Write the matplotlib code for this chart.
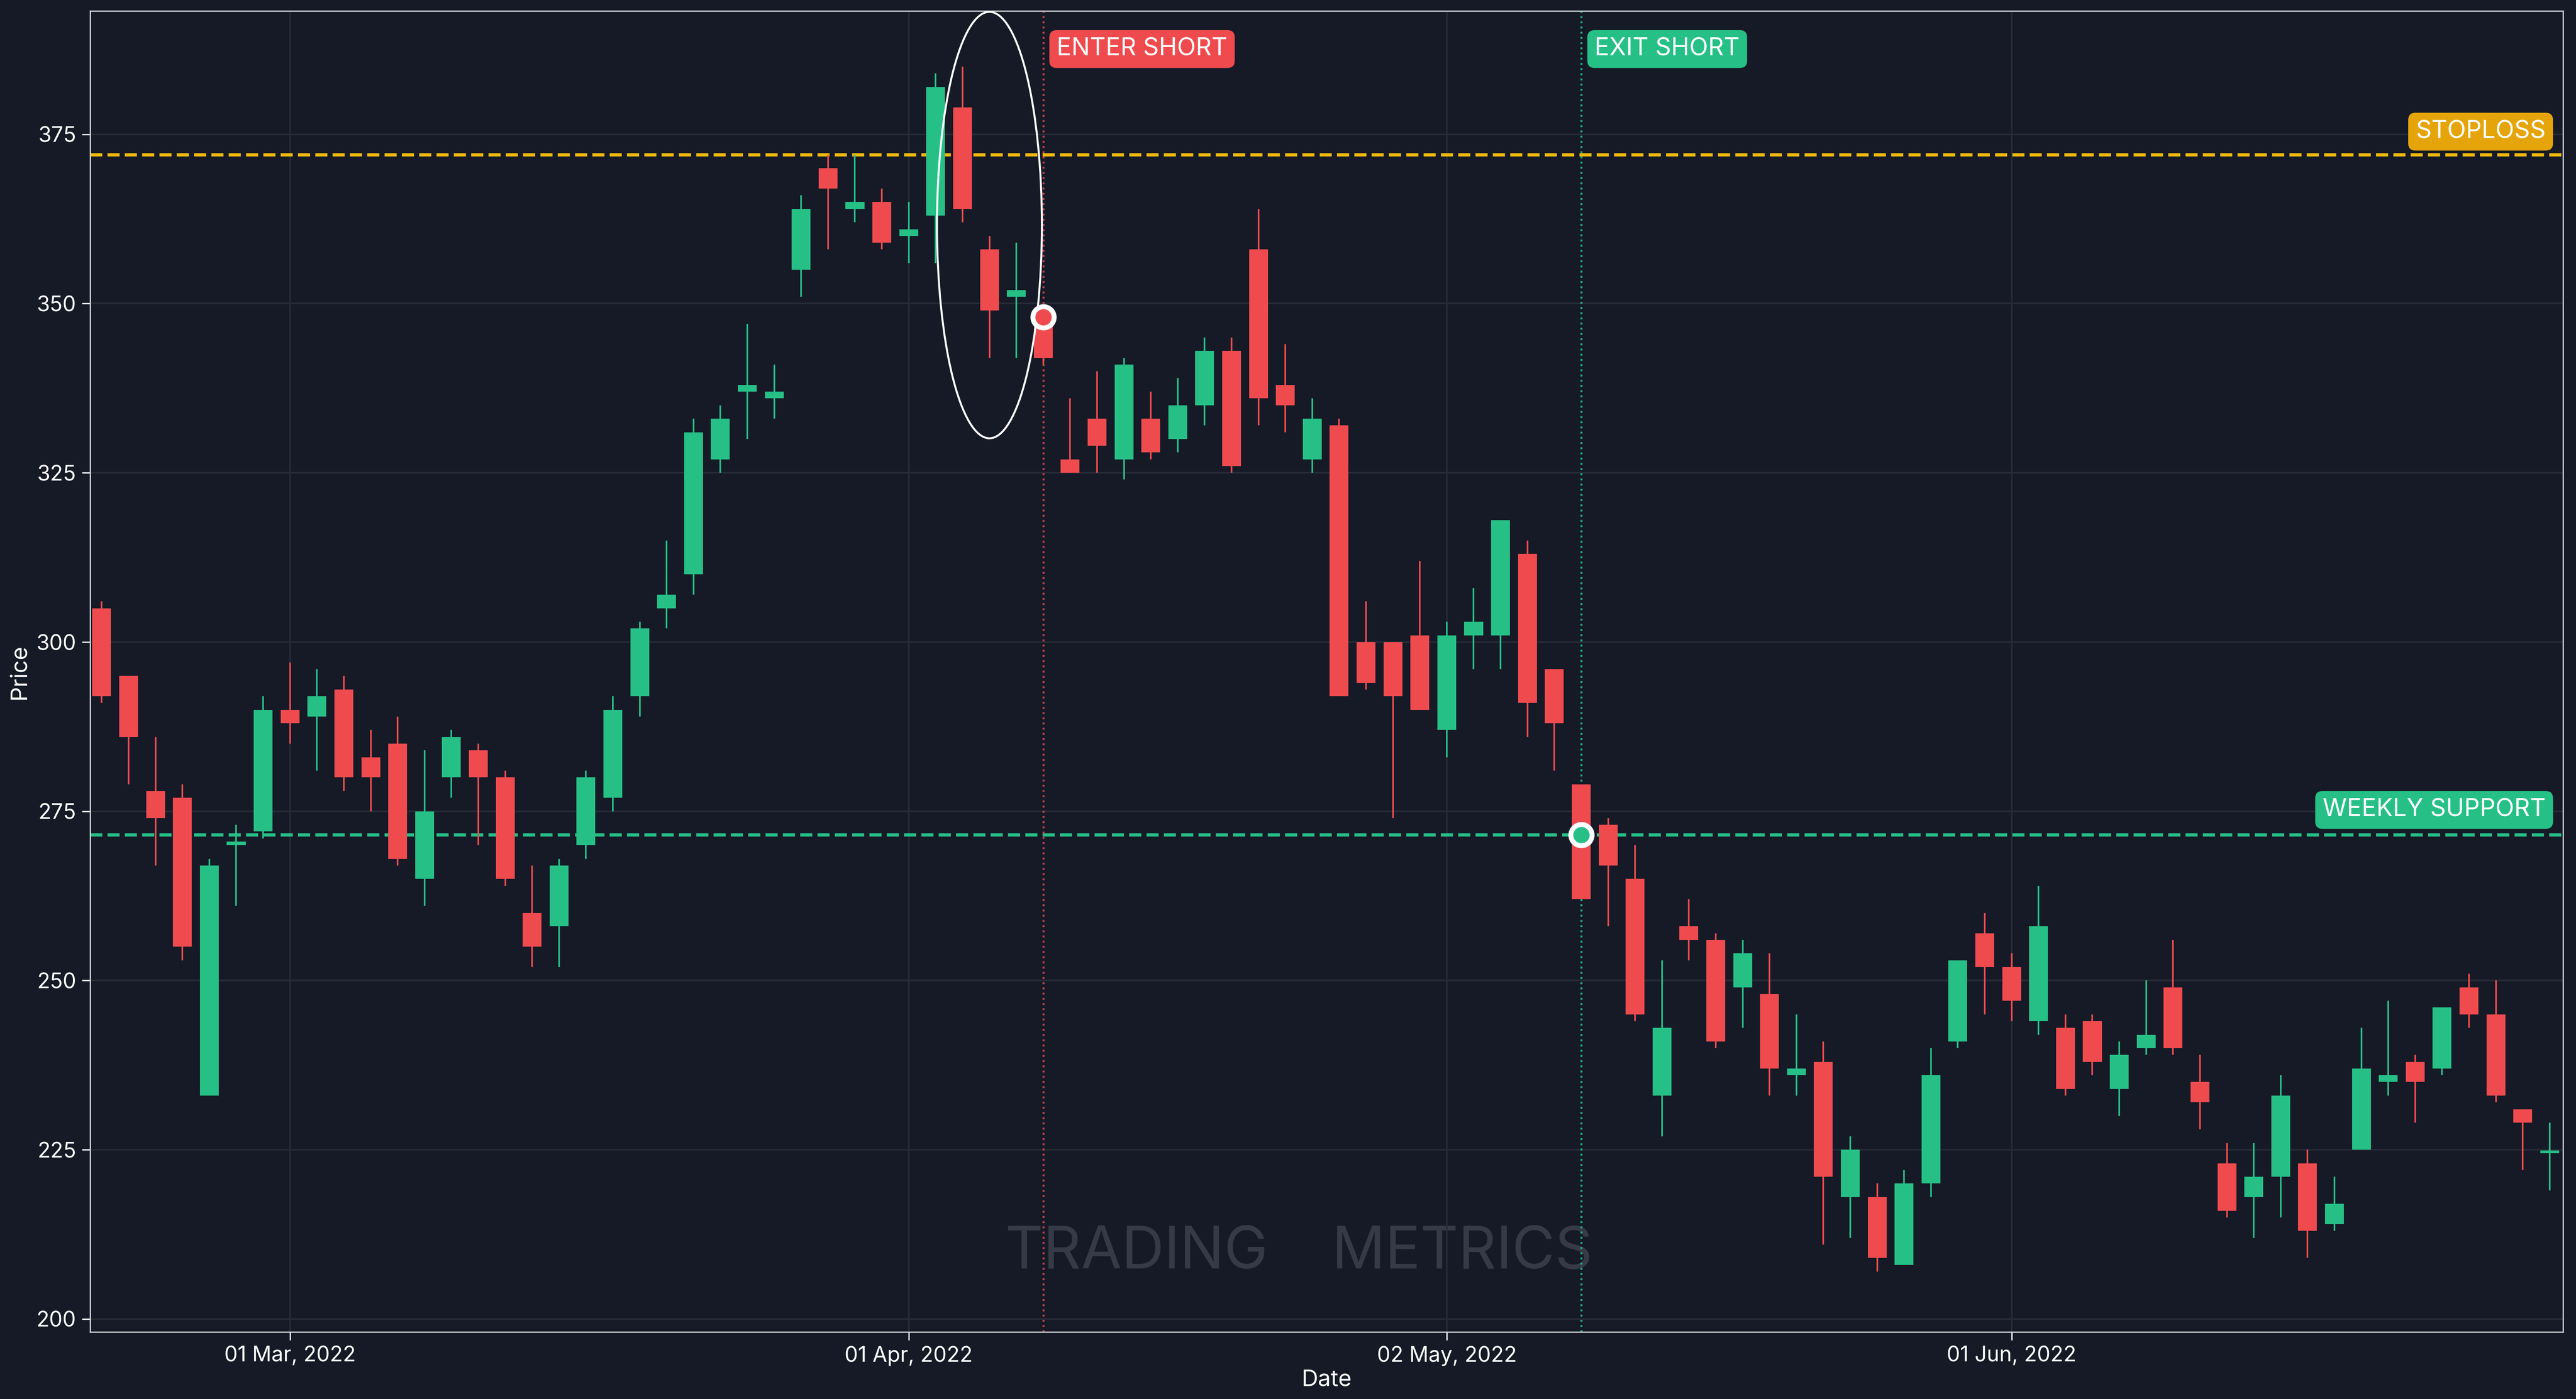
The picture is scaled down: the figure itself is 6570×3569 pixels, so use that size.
import numpy as np
import pandas as pd
import matplotlib.pyplot as plt
from matplotlib.patches import Ellipse

BG = '#151a26'
UP = '#26c087'
DOWN = '#ef4b4f'

holidays = ['2022-02-21', '2022-04-15', '2022-05-30', '2022-06-20']
dates = [d for d in pd.bdate_range('2022-02-17', '2022-06-30') if d.strftime('%Y-%m-%d') not in holidays]

opens = [305, 295, 278, 277, 233, 270, 272, 290, 289, 293, 283, 285, 265, 280, 284, 280, 260, 258, 270, 277,
         292, 305, 310, 327, 337, 336, 355, 370, 364, 365, 360, 363, 379, 358, 351, 348, 327, 333, 327, 333,
         330, 335, 343, 358, 338, 327, 332, 300, 300, 301, 287, 301, 301, 313, 296, 279, 273, 265, 233, 258,
         256, 249, 248, 236, 238, 218, 218, 208, 220, 241, 257, 252, 244, 243, 244, 234, 240, 249, 235, 223,
         218, 221, 223, 214, 225, 235, 238, 237, 249, 245, 231, 224.5]
closes = [292, 286, 274, 255, 267, 270.5, 290, 288, 292, 280, 280, 268, 275, 286, 280, 265, 255, 267, 280, 290,
          302, 307, 331, 333, 338, 337, 364, 367, 365, 359, 361, 382, 364, 349, 352, 342, 325, 329, 341, 328,
          335, 343, 326, 336, 335, 333, 292, 294, 292, 290, 301, 303, 318, 291, 288, 262, 267, 245, 243, 256,
          241, 254, 237, 237, 221, 225, 209, 220, 236, 253, 252, 247, 258, 234, 238, 239, 242, 240, 232, 216,
          221, 233, 213, 217, 237, 236, 235, 246, 245, 233, 229, 224.6]
highs = [306, 295, 286, 279, 268, 273, 292, 297, 296, 295, 287, 289, 284, 287, 285, 281, 267, 268, 281, 292,
         303, 315, 333, 335, 347, 341, 366, 372, 372, 367, 365, 384, 385, 360, 359, 348, 336, 340, 342, 337,
         339, 345, 345, 364, 344, 336, 333, 306, 300, 312, 303, 308, 318, 315, 296, 279, 274, 270, 253, 262,
         257, 256, 254, 245, 241, 227, 220, 222, 240, 253, 260, 254, 264, 245, 245, 241, 250, 256, 239, 226,
         226, 236, 225, 221, 243, 247, 239, 246, 251, 250, 231, 229]
lows = [291, 279, 267, 253, 233, 261, 271, 285, 281, 278, 275, 267, 261, 277, 270, 264, 252, 252, 268, 275,
        289, 302, 307, 325, 330, 333, 351, 358, 362, 358, 356, 356, 362, 342, 342, 341, 325, 325, 324, 327,
        328, 332, 325, 332, 331, 325, 292, 293, 274, 290, 283, 296, 296, 286, 281, 262, 258, 244, 227, 253,
        240, 243, 233, 233, 211, 212, 207, 208, 218, 240, 245, 244, 242, 233, 236, 230, 239, 239, 228, 215,
        212, 215, 209, 213, 225, 233, 229, 236, 243, 232, 222, 219]

tick_labels = ['01 Mar, 2022', '01 Apr, 2022', '02 May, 2022', '01 Jun, 2022']
stoploss = 372
support = 271.5
enter_idx, enter_price = 35, 348
exit_idx, exit_price = 55, 271.5

plt.rcParams['font.family'] = ['Inter', 'DejaVu Sans']
fig = plt.figure(figsize=(21.9, 11.897), dpi=300, facecolor=BG)
ax = fig.add_axes([0.035, 0.048, 0.96, 0.944], facecolor=BG)

x = np.arange(len(dates))
for i in x:
    o, c, h, l = opens[i], closes[i], highs[i], lows[i]
    col = UP if c >= o else DOWN
    ax.vlines(i, l, h, color=col, lw=1.0, zorder=3)
    ax.bar(i, max(abs(c - o), 0.4), bottom=min(o, c), width=0.7, color=col, zorder=4)

ax.axhline(stoploss, color='#f0b90b', ls='--', lw=2, zorder=2)
ax.axhline(support, color=UP, ls='--', lw=2, zorder=2)
ax.axvline(enter_idx, color=DOWN, ls=':', lw=1.2, alpha=0.8, zorder=2)
ax.axvline(exit_idx, color=UP, ls=':', lw=1.2, alpha=0.9, zorder=2)

ax.plot(enter_idx, enter_price, 'o', ms=13, mfc=DOWN, mec='white', mew=3, zorder=6)
ax.plot(exit_idx, exit_price, 'o', ms=13, mfc=UP, mec='white', mew=3, zorder=6)
ax.add_patch(Ellipse((33, 361.6), 3.9, 63, fill=False, ec='white', lw=1.2, zorder=5))

box = dict(boxstyle='round,pad=0.3', lw=0)
ax.text(enter_idx + 0.5, 387.6, 'ENTER SHORT', color='white', fontsize=15, va='center', ha='left',
        bbox=dict(box, fc=DOWN), zorder=7)
ax.text(exit_idx + 0.5, 387.6, 'EXIT SHORT', color='white', fontsize=15, va='center', ha='left',
        bbox=dict(box, fc=UP), zorder=7)
ax.text(90.85, stoploss + 3.4, 'STOPLOSS', color='white', fontsize=15, va='center', ha='right',
        bbox=dict(box, fc='#e5a50a'), zorder=7)
ax.text(90.85, support + 3.7, 'WEEKLY SUPPORT', color='white', fontsize=15, va='center', ha='right',
        bbox=dict(box, fc=UP), zorder=7)
ax.text(44.5, 209.7, 'TRADING\u2009\u2009\u2009\u2009\u2009\u2009METRICS', color='#353a46', fontsize=36,
        ha='center', va='center', zorder=1)

ax.set_xlim(-0.43, 91.5)
ax.set_ylim(198.1, 393.2)
tick_pos = [dates.index(pd.Timestamp(d)) for d in ['2022-03-01', '2022-04-01', '2022-05-02', '2022-06-01']]
ax.set_xticks(tick_pos, tick_labels)
ax.set_yticks([200, 225, 250, 275, 300, 325, 350, 375])
ax.grid(True, color='#262b37', lw=1)
ax.tick_params(colors='white', labelsize=13, length=5)
for s in ax.spines.values():
    s.set_color('#cfd3da')
ax.set_xlabel('Date', color='white', fontsize=14, labelpad=2)
ax.set_ylabel('Price', color='white', fontsize=14, labelpad=4)

plt.savefig('out.png', dpi=300, facecolor=BG)
plt.close()
